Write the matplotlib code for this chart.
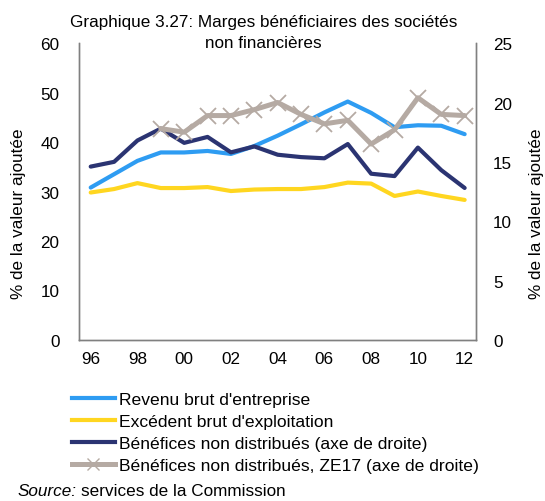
import matplotlib
matplotlib.use("Agg")
import matplotlib.pyplot as plt
from matplotlib.lines import Line2D
import numpy as np

plt.rcParams['font.family'] = ['Liberation Sans', 'DejaVu Sans']

years = ['96', '97', '98', '99', '00', '01', '02', '03', '04', '05', '06', '07', '08', '09', '10', '11', '12']
tick_labels = ['96', '98', '00', '02', '04', '06', '08', '10', '12']

revenu_brut = [30.8, 33.5, 36.2, 37.9, 37.9, 38.2, 37.6, 39.2, 41.3, 43.6, 46.0, 48.2, 45.9, 43.0, 43.4, 43.3, 41.6]
excedent_brut = [29.8, 30.5, 31.7, 30.7, 30.7, 30.9, 30.1, 30.4, 30.5, 30.5, 30.9, 31.8, 31.6, 29.1, 30.0, 29.1, 28.3]
benefices_nd = [14.6, 15.0, 16.8, 17.8, 16.6, 17.1, 15.8, 16.3, 15.6, 15.4, 15.3, 16.5, 14.0, 13.8, 16.2, 14.3, 12.8]
benefices_ze17 = [np.nan, np.nan, np.nan, 17.8, 17.5, 18.9, 18.9, 19.4, 20.0, 19.0, 18.2, 18.5, 16.5, 17.7, 20.4, 19.0, 18.9]

c_blue = '#2E9CF2'
c_yellow = '#FFD620'
c_navy = '#2B3472'
c_gray = '#B5AAA3'

FS = 12.3

fig = plt.figure(figsize=(5.45, 5.02), dpi=100)
ax = fig.add_axes([0.145, 0.321, 0.729, 0.591])
ax2 = ax.twinx()

x = np.arange(len(years))
ax.plot(x, revenu_brut, color=c_blue, lw=3.0, solid_capstyle='round', zorder=3)
ax.plot(x, excedent_brut, color=c_yellow, lw=3.0, solid_capstyle='round', zorder=3)
ax2.plot(x, benefices_nd, color=c_navy, lw=3.0, solid_capstyle='round', zorder=3)
ax2.plot(x, benefices_ze17, color=c_gray, lw=3.6, marker='x', ms=11, mew=1.3,
         mec=c_gray, solid_capstyle='round', zorder=4)

ax.set_xlim(-0.5, len(years) - 0.5)
ax.set_ylim(0, 60)
ax2.set_ylim(0, 25)
ax.set_yticks([0, 10, 20, 30, 40, 50, 60])
ax2.set_yticks([0, 5, 10, 15, 20, 25])
ax.set_xticks(x[::2])
ax.set_xticklabels(tick_labels)

for a in (ax, ax2):
    a.tick_params(axis='both', length=0, labelsize=FS, pad=14)
    a.spines['top'].set_visible(False)
    for s in ('left', 'right', 'bottom'):
        a.spines[s].set_color('#808080')
        a.spines[s].set_linewidth(1.0)
ax.tick_params(axis='x', pad=8)
ax2.tick_params(axis='y', pad=12)

ax.set_ylabel('% de la valeur ajoutée', fontsize=FS)
ax2.set_ylabel('% de la valeur ajoutée', fontsize=FS)
ax.yaxis.set_label_coords(-0.133, 0.43)
ax2.yaxis.set_label_coords(1.133, 0.43)

fig.text(0.484, 1 - 22 / 502, 'Graphique 3.27: Marges bénéficiaires des sociétés',
         ha='center', va='center', fontsize=FS)
fig.text(0.484, 1 - 44 / 502, 'non financières', ha='center', va='center', fontsize=FS)

handles = [
    Line2D([], [], color=c_blue, lw=3.0),
    Line2D([], [], color=c_yellow, lw=3.0),
    Line2D([], [], color=c_navy, lw=3.0),
    Line2D([], [], color=c_gray, lw=3.6, marker='x', ms=8, mew=1.0),
]
labels = ["Revenu brut d'entreprise", "Excédent brut d'exploitation",
          "Bénéfices non distribués (axe de droite)",
          "Bénéfices non distribués, ZE17 (axe de droite)"]
fig.legend(handles, labels, loc='upper left', bbox_to_anchor=(0.132, 1 - 393 / 502),
           frameon=False, fontsize=12.6, handlelength=2.45, handletextpad=0.22,
           labelspacing=0.38, borderaxespad=0, borderpad=0)

y_src = 1 - 492 / 502
t1 = fig.text(0.033, y_src, 'Source:', style='italic', fontsize=FS, ha='left', va='center')
fig.canvas.draw()
bb = t1.get_window_extent(renderer=fig.canvas.get_renderer())
x_next = bb.x1 / fig.bbox.width + 0.008
fig.text(x_next, y_src, 'services de la Commission', fontsize=FS, ha='left', va='center')

fig.savefig('out.png', dpi=100)
